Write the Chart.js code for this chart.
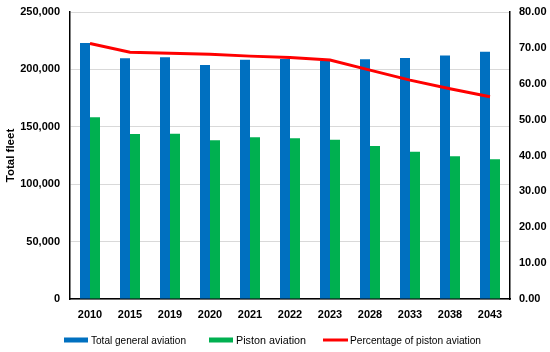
<!DOCTYPE html>
<html><head><meta charset="utf-8">
<script src="https://cdn.jsdelivr.net/npm/chart.js@4/dist/chart.umd.min.js"></script>
<style>html,body{margin:0;padding:0;background:#fff}#wrap{width:550px;height:352px}</style>
</head><body><div id="wrap"><canvas id="c" width="550" height="352"></canvas></div>
<script>
const categories = ['2010','2015','2019','2020','2021','2022','2023','2028','2033','2038','2043'];
const totalGA = [223000,209700,210500,203800,208500,209000,207800,208800,210000,212000,215400];
const pistonGA = [158300,143800,144000,138200,140800,140000,138800,133300,128300,124300,121700];
const pistonPct = [71.2,68.8,68.5,68.2,67.7,67.3,66.6,63.8,61.0,58.6,56.4];
const leftTicks = [0,50000,100000,150000,200000,250000];
const rightTicks = [0,10,20,30,40,50,60,70,80];
const seriesNames = ['Total general aviation','Piston aviation','Percentage of piston aviation'];

const FONT = 'Liberation Sans, Arial, sans-serif';
Chart.defaults.font.family = FONT;
Chart.defaults.color = '#000';

// custom bottom legend (Excel style)
const legendPlugin = {
  id:'xlLegend',
  afterDraw(chart){
    const ctx = chart.ctx;
    const y = 340;
    const items = [
      {name:seriesNames[0], kind:'rect', color:'#0070c0', x0:64, tx:91, tw:95},
      {name:seriesNames[1], kind:'rect', color:'#00b050', x0:209, tx:236, tw:70},
      {name:seriesNames[2], kind:'line', color:'#ff0000', x0:323, tx:350, tw:131}
    ];
    ctx.save();
    ctx.font = '11.5px ' + FONT;
    ctx.textBaseline = 'middle';
    ctx.fillStyle = '#000';
    items.forEach(it=>{
      if(it.kind==='rect'){ctx.fillStyle=it.color;ctx.fillRect(it.x0,y-2.5,24,5);}
      else {ctx.strokeStyle=it.color;ctx.lineWidth=3;ctx.beginPath();ctx.moveTo(it.x0,y);ctx.lineTo(it.x0+25,y);ctx.stroke();}
      ctx.fillStyle='#000';
      ctx.fillText(it.name, it.tx, y+0.5, it.tw);
    });
    ctx.restore();
  }
};

const noVPad = (ax)=>{ax.paddingTop=0; ax.paddingBottom=0;};

new Chart(document.getElementById('c'), {
  data: {
    labels: categories,
    datasets: [
      {type:'line', label:seriesNames[2], data:pistonPct, yAxisID:'y2',
       borderColor:'#ff0000', backgroundColor:'#ff0000', borderWidth:3, pointRadius:0, tension:0, order:0},
      {type:'bar', label:seriesNames[0], data:totalGA, yAxisID:'y',
       backgroundColor:'#0070c0', categoryPercentage:0.5, barPercentage:1.0, order:1},
      {type:'bar', label:seriesNames[1], data:pistonGA, yAxisID:'y',
       backgroundColor:'#00b050', categoryPercentage:0.5, barPercentage:1.0, order:2}
    ]
  },
  plugins:[legendPlugin],
  options: {
    responsive:false, animation:false,
    layout:{padding:{left:0,right:0,top:12,bottom:26}},
    plugins:{ legend:{display:false}, tooltip:{enabled:false} },
    scales:{
      x:{grid:{display:false, drawTicks:false}, border:{color:'#000',width:1.5},
         ticks:{font:{family:FONT,size:11,weight:'bold'}, padding:9},
         afterFit:(ax)=>{ax.height=27; ax.paddingLeft=0; ax.paddingRight=0;}},
      y:{position:'left', min:0, max:250000,
         afterBuildTicks:(ax)=>{ax.ticks=leftTicks.map(v=>({value:v}));},
         grid:{color:'#d9d9d9', drawTicks:false}, border:{color:'#000',width:1.5},
         ticks:{font:{family:FONT,size:11,weight:'bold'}, padding:10,
           callback:(v)=>v.toLocaleString('en-US')},
         title:{display:true,text:'Total fleet',font:{family:FONT,size:11.5,weight:'bold'},padding:{top:4,bottom:0}},
         afterFit:(ax)=>{ax.width=70; noVPad(ax);}},
      y2:{position:'right', min:0, max:80,
         afterBuildTicks:(ax)=>{ax.ticks=rightTicks.map(v=>({value:v}));},
         grid:{display:false, drawOnChartArea:false, drawTicks:true, tickLength:4, tickColor:'#000', tickWidth:1.5},
         border:{color:'#000',width:1.5},
         ticks:{font:{family:FONT,size:11,weight:'bold'}, padding:5, callback:(v)=>Number(v).toFixed(2)},
         afterFit:(ax)=>{ax.width=40; noVPad(ax);}}
    }
  }
});
</script></body></html>
